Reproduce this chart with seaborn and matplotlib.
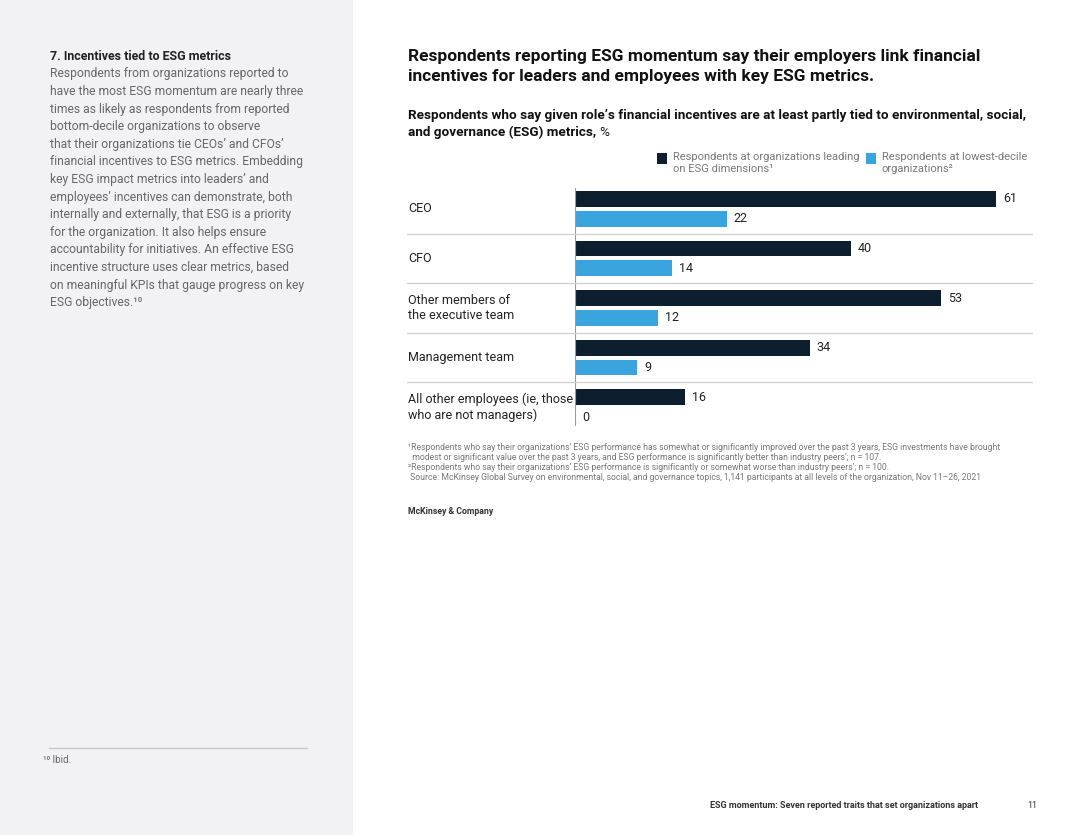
import seaborn as sns
import pandas as pd
import matplotlib.pyplot as plt
from matplotlib.patches import Rectangle

roles = ["CEO", "CFO", "Other members of\nthe executive team", "Management team",
         "All other employees (ie, those\nwho are not managers)"]
leading = [61, 40, 53, 34, 16]
lowest = [22, 14, 12, 9, 0]
groups = ["Respondents at organizations leading\non ESG dimensions\u00b9",
          "Respondents at lowest-decile\norganizations\u00b2"]
colors = ["#0d1e2f", "#39a4de"]

body_lines = [
    "Respondents from organizations reported to",
    "have the most ESG momentum are nearly three",
    "times as likely as respondents from reported",
    "bottom-decile organizations to observe",
    "that their organizations tie CEOs\u2019 and CFOs\u2019",
    "financial incentives to ESG metrics. Embedding",
    "key ESG impact metrics into leaders\u2019 and",
    "employees\u2019 incentives can demonstrate, both",
    "internally and externally, that ESG is a priority",
    "for the organization. It also helps ensure",
    "accountability for initiatives. An effective ESG",
    "incentive structure uses clear metrics, based",
    "on meaningful KPIs that gauge progress on key",
    "ESG objectives.\u00b9\u2070",
]
footnotes = [
    "\u00b9Respondents who say their organizations\u2019 ESG performance has somewhat or significantly improved over the past 3 years, ESG investments have brought",
    "  modest or significant value over the past 3 years, and ESG performance is significantly better than industry peers\u2019; n = 107.",
    "\u00b2Respondents who say their organizations\u2019 ESG performance is significantly or somewhat worse than industry peers\u2019; n = 100.",
    " Source: McKinsey Global Survey on environmental, social, and governance topics, 1,141 participants at all levels of the organization, Nov 11\u201326, 2021",
]

df = pd.DataFrame({
    "role": roles * 2,
    "group": [groups[0]] * len(roles) + [groups[1]] * len(roles),
    "value": leading + lowest,
})

sns.set_theme(style="white")
plt.rcParams["font.family"] = ["Roboto", "DejaVu Sans"]

W, H = 1080, 835
fig = plt.figure(figsize=(W / 100, H / 100), dpi=100)


def fx(x):
    return x / W


def fy(y):
    return 1 - y / H


# left grey panel
fig.patches.append(Rectangle((0, 0), fx(353), 1, transform=fig.transFigure,
                             facecolor="#f2f2f4", edgecolor="none", zorder=0))

ax = fig.add_axes([fx(575), fy(432), fx(1032) - fx(575), fy(184) - fy(432)])
sns.barplot(data=df, y="role", x="value", hue="group", orient="h",
            palette=colors, saturation=1, width=0.8, gap=0.2, linewidth=0,
            legend=False, ax=ax)
ax.set_xlim(0, (1032 - 575) / 6.9)
ax.set_ylim(4.5, -0.5)
ax.set_xlabel("")
ax.set_ylabel("")
ax.set_xticks([])
ax.set_yticks([])
for s in ax.spines.values():
    s.set_visible(False)
ax.axvline(0, ymin=0.03, ymax=0.985, color="#9a9a9a", lw=0.8)

for c in ax.containers:
    ax.bar_label(c, fmt="%d", padding=5, fontsize=9, color="#222222")

ytr = ax.get_yaxis_transform()
for i in range(len(roles) - 1):
    ax.plot([(407 - 575) / (1032 - 575), 1], [i + 0.5, i + 0.5], transform=ytr,
            color="#cfcfcf", lw=0.9, clip_on=False)
for i, r in enumerate(roles):
    ax.text((408 - 575) / (1032 - 575), i, r, transform=ytr, ha="left", va="center",
            fontsize=9, color="#222222", linespacing=1.2)

# left column
fig.text(fx(50), fy(56), "7. Incentives tied to ESG metrics", fontsize=8.9,
         fontweight="bold", color="#222222", va="center")
for k, line in enumerate(body_lines):
    fig.text(fx(50), fy(74 + k * 17.6), line, fontsize=8.7, color="#666666", va="center")
fig.lines.append(plt.Line2D([fx(49), fx(307)], [fy(748), fy(748)], transform=fig.transFigure,
                            color="#c8c8c8", lw=1))
fig.text(fx(43), fy(760), "\u00b9\u2070 Ibid.", fontsize=7, color="#666666", va="center")

# headline
fig.text(fx(408), fy(56), "Respondents reporting ESG momentum say their employers link financial",
         fontsize=12.5, fontweight="bold", color="#111111", va="center")
fig.text(fx(408), fy(77), "incentives for leaders and employees with key ESG metrics.",
         fontsize=12.5, fontweight="bold", color="#111111", va="center")
fig.text(fx(408), fy(115), "Respondents who say given role\u2019s financial incentives are at least partly tied to environmental, social,",
         fontsize=9.7, fontweight="bold", color="#111111", va="center")
fig.text(fx(408), fy(132), "and governance (ESG) metrics,", fontsize=9.7, fontweight="bold",
         color="#111111", va="center")
fig.text(fx(599), fy(132), "%", fontsize=9.7, color="#111111", va="center")

# legend
for x0, lab, col in [(657, groups[0], colors[0]), (866, groups[1], colors[1])]:
    fig.patches.append(Rectangle((fx(x0), fy(164)), fx(10), fy(153) - fy(164),
                                 transform=fig.transFigure, facecolor=col, edgecolor="none"))
    fig.text(fx(x0 + 16), fy(152), lab, fontsize=8, color="#777777", va="top",
             linespacing=1.2)

# footnotes
for k, line in enumerate(footnotes):
    fig.text(fx(408), fy(448 + k * 9.8), line, fontsize=6.25, color="#777777", va="center")
fig.text(fx(408), fy(512), "McKinsey & Company", fontsize=6.3, fontweight="bold",
         color="#333333", va="center")

# page footer
fig.text(fx(710), fy(805), "ESG momentum: Seven reported traits that set organizations apart",
         fontsize=6.5, fontweight="bold", color="#333333", va="center")
fig.text(fx(1027), fy(805), "11", fontsize=6.5, color="#333333", va="center")

fig.savefig("out.png", dpi=100)
